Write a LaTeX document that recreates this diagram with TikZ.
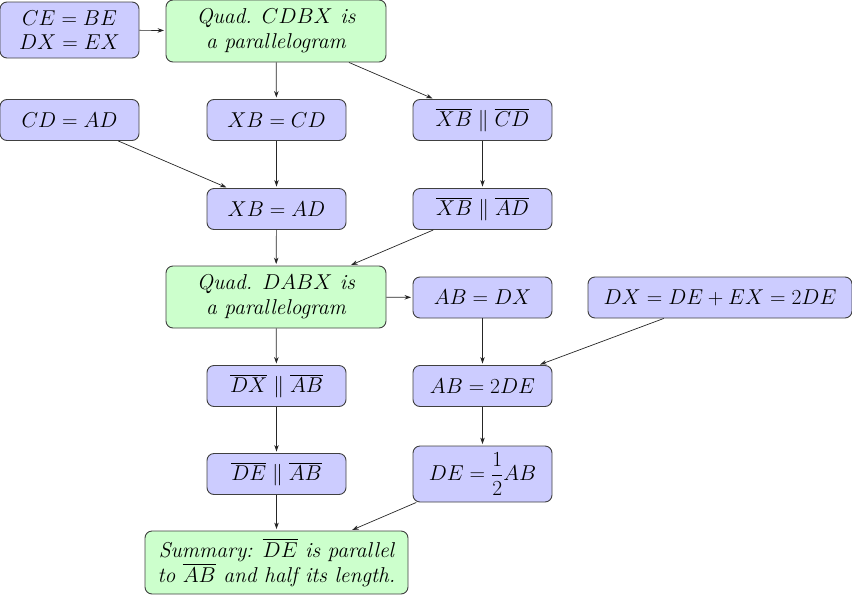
\RequirePackage{fix-cm}
\documentclass[tikz,border=0pt]{standalone}
\usepackage{amsmath}
\usetikzlibrary{arrows.meta}
\tikzset{
  bbox/.style={draw=black!75, line width=0.9pt, rounded corners=7pt, fill=blue!20, align=center, inner sep=2pt, minimum width=139pt, minimum height=41pt},
  gbox/.style={bbox, fill=green!20},
  conn/.style={draw=black!85, line width=0.7pt, -{Stealth[length=6.5pt,width=4.5pt]}, shorten >=1.5pt}
}
\begin{document}
\begin{tikzpicture}[x=1pt,y=-1pt,font=\fontsize{21.5}{25}\selectfont\itshape]
\useasboundingbox (0,0) rectangle (852,595);
\node[bbox, minimum height=56pt] (n1) at (69.5,30) {$CE = BE$\\[-1pt]$DX = EX$};
\node[gbox, minimum width=220pt, minimum height=62pt] (n2) at (276,31) {Quad. $CDBX$ is\\a parallelogram};
\node[bbox] (n3) at (69.5,120) {$CD = AD$};
\node[bbox] (n4) at (276.5,120) {$XB = CD$};
\node[bbox] (n5) at (482.5,120) {$\overline{XB} \parallel \overline{CD}$};
\node[bbox] (n6) at (276.5,209) {$XB = AD$};
\node[bbox] (n7) at (482.5,209) {$\overline{XB} \parallel \overline{AD}$};
\node[gbox, minimum width=220pt, minimum height=62pt] (n8) at (276,297) {Quad. $DABX$ is\\a parallelogram};
\node[bbox] (n9) at (482.5,297.5) {$AB = DX$};
\node[bbox, minimum width=264pt] (n10) at (720,297.5) {$DX = DE + EX = 2DE$};
\node[bbox] (n11) at (276.5,386) {$\overline{DX} \parallel \overline{AB}$};
\node[bbox] (n12) at (482.5,386) {$AB = 2DE$};
\node[bbox] (n13) at (276.5,474) {$\overline{DE} \parallel \overline{AB}$};
\node[bbox, minimum height=56pt] (n14) at (482.5,474) {$DE = \dfrac{1}{2}AB$};
\node[gbox, minimum width=263pt, minimum height=63pt] (n15) at (276.5,562.5) {Summary: $\overline{DE}$ is parallel\\to $\overline{AB}$ and half its length.};
\draw[conn] (n1) -- (n2);
\draw[conn] (n2) -- (n4);
\draw[conn] (n2) -- (n5);
\draw[conn] (n3) -- (n6);
\draw[conn] (n4) -- (n6);
\draw[conn] (n5) -- (n7);
\draw[conn] (n6) -- (n8);
\draw[conn] (n7) -- (n8);
\draw[conn] (n8) -- (n9);
\draw[conn] (n8) -- (n11);
\draw[conn] (n9) -- (n12);
\draw[conn] (n10) -- (n12);
\draw[conn] (n11) -- (n13);
\draw[conn] (n12) -- (n14);
\draw[conn] (n13) -- (n15);
\draw[conn] (n14) -- (n15);
\end{tikzpicture}
\end{document}
